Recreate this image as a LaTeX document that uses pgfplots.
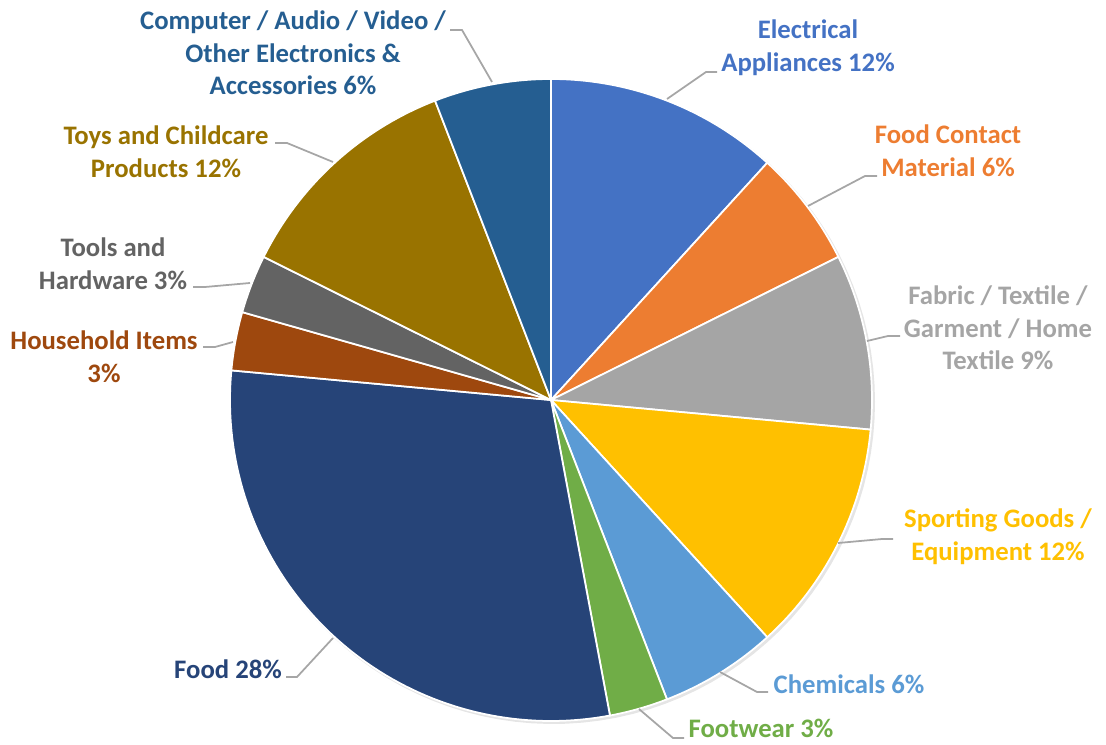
\documentclass[border=0pt]{standalone}
\usepackage{pgfplots}
\usepackage{pgfplotstable}
\pgfplotsset{compat=1.18}
\usepackage{fontspec}
\setmainfont{Carlito}

% Office palette
\definecolor{c0}{HTML}{4472C4}
\definecolor{c1}{HTML}{ED7D31}
\definecolor{c2}{HTML}{A5A5A5}
\definecolor{c3}{HTML}{FFC000}
\definecolor{c4}{HTML}{5B9BD5}
\definecolor{c5}{HTML}{70AD47}
\definecolor{c6}{HTML}{264478}
\definecolor{c7}{HTML}{9E480E}
\definecolor{c8}{HTML}{636363}
\definecolor{c9}{HTML}{997300}
\definecolor{c10}{HTML}{255E91}
\definecolor{leader}{HTML}{A6A6A6}

% counts (total 34)
\pgfplotstableread{
category count
Electrical 4
FoodContact 2
Fabric 3
Sporting 4
Chemicals 2
Footwear 1
Food 10
Household 1
Tools 1
Toys 4
Computer 2
}\piedata
\def\total{34}

\begin{document}
\begin{tikzpicture}
\xdef\curangle{90}
\begin{axis}[
    width=11.06cm, height=7.44cm,
    scale only axis,
    xmin=0, xmax=1106,
    ymin=-744, ymax=0,
    hide axis,
    clip=false,
    font=\fontsize{7.6}{9.3}\selectfont\bfseries,
  ]
  % faint shadow under the pie
  \addplot[draw=none, fill=black, fill opacity=0.10, domain=0:360, samples=120]
    ({553+322*cos(x)},{-402+322*sin(x)}) -- cycle;
  \pgfplotsinvokeforeach{0,...,10}{
    \pgfplotstablegetelem{#1}{count}\of\piedata
    \pgfmathsetmacro\endangle{\curangle-360*\pgfplotsretval/\total}
    \edef\doslice{\noexpand\addplot[fill=c#1, draw=white, line width=0.5pt,
      domain=\endangle:\curangle, samples=80]
      ({551+321*cos(x)},{-400+321*sin(x)}) -- (551,-400) -- cycle;}
    \doslice
    \xdef\curangle{\endangle}
  }

  % leader lines
  \begin{scope}[draw=leader, line width=0.5pt]
    \draw (667,-99) -- (706,-72) -- (717,-72);
    \draw (808,-206) -- (865,-176) -- (877,-176);
    \draw (867,-341) -- (888,-336) -- (900,-336);
    \draw (838,-543) -- (882,-539) -- (893,-539);
    \draw (720,-672) -- (757,-692) -- (768,-692);
    \draw (639,-709) -- (673,-738) -- (684,-738);
    \draw (333,-638) -- (297,-677) -- (286,-677);
    \draw (233,-342) -- (215,-347) -- (203,-347);
    \draw (250,-283) -- (205,-287) -- (193,-287);
    \draw (333,-162) -- (287,-143) -- (275,-143);
    \draw (492,-82) -- (462,-30) -- (450,-30);
  \end{scope}

  % labels
  \begin{scope}[every node/.style={align=center, inner sep=0pt}]
    \node[text=c0] at (808,-48) {Electrical\\Appliances 12\%};
    \node[text=c1] at (948,-151) {Food Contact\\Material 6\%};
    \node[text=c2] at (998,-328) {Fabric / Textile /\\Garment / Home\\Textile 9\%};
    \node[text=c3] at (998,-537) {Sporting Goods /\\Equipment 12\%};
    \node[text=c4] at (849,-684) {Chemicals 6\%};
    \node[text=c5] at (761,-728) {Footwear 3\%};
    \node[text=c6] at (228,-669) {Food 28\%};
    \node[text=c7] at (104,-357) {Household Items\\3\%};
    \node[text=c8] at (113,-264) {Tools and\\Hardware 3\%};
    \node[text=c9] at (166,-152) {Toys and Childcare\\Products 12\%};
    \node[text=c10] at (293,-53) {Computer / Audio / Video /\\Other Electronics \&\\Accessories 6\%};
  \end{scope}
\end{axis}
\pgfresetboundingbox
\path (0,0) rectangle (11.06cm,7.44cm);
\end{tikzpicture}
\end{document}
